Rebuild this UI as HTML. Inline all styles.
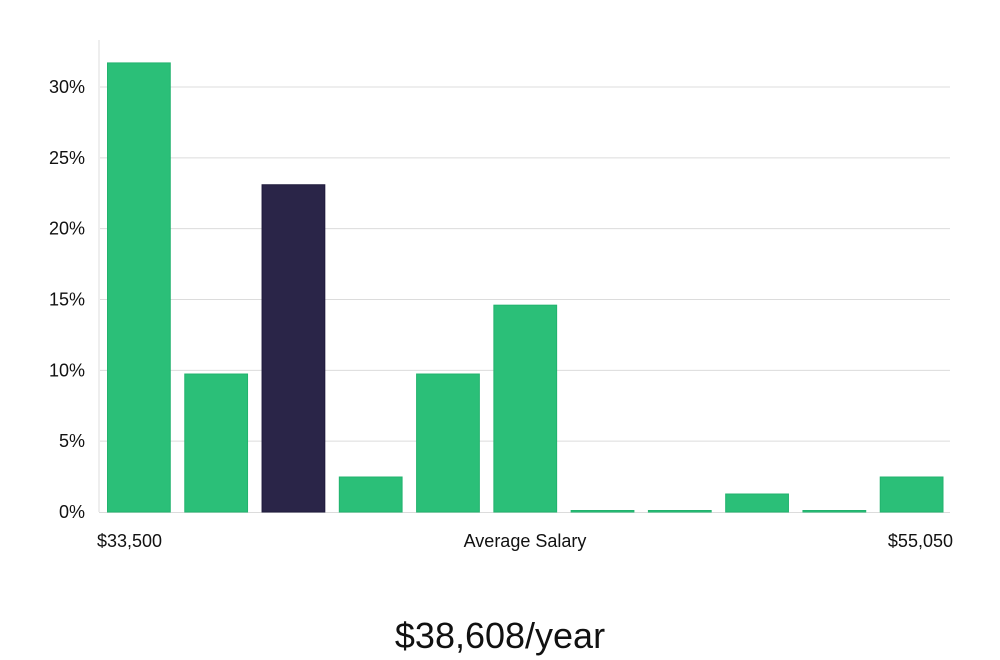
<!DOCTYPE html>
<html><head><meta charset="utf-8"><style>
html,body{margin:0;padding:0;background:#fff;width:1000px;height:660px;overflow:hidden;font-family:"Liberation Sans","DejaVu Sans",sans-serif;}
</style></head><body>
<svg id="chart" width="1000" height="660" xmlns="http://www.w3.org/2000/svg"></svg>
<script>
const categories=["b1","b2","b3","b4","b5","b6","b7","b8","b9","b10","b11"];
const values=[31.7,9.74,23.1,2.47,9.74,14.6,0,0,1.27,0,2.47];
const highlight=[false,false,true,false,false,false,false,false,false,false,false];
const yTicks=[0,5,10,15,20,25,30];
const yTickLabels=["0%","5%","10%","15%","20%","25%","30%"];
const xLabels=["$33,500","Average Salary","$55,050"];
const title="$38,608/year";

const NS="http://www.w3.org/2000/svg";
const svg=document.getElementById("chart");
const L=100,R=950,T=40,B=512,yMax=33.4;
function y(v){return B-(v/30)*(B-87);}
function xBand(i){return L+(R-L)/categories.length*i;}
const bw=(R-L)/categories.length;
function mk(tag,attrs){const e=document.createElementNS(NS,tag);for(const k in attrs)e.setAttribute(k,attrs[k]);svg.appendChild(e);return e;}

yTicks.forEach((t,i)=>{
  if(t>0){const g=mk("line",{x1:L,x2:R,y1:y(t),y2:y(t),stroke:"#dcdcdc","stroke-width":1});
  
  }
  const tx=mk("text",{x:85,y:y(t)+6,"text-anchor":"end","font-size":18,fill:"#111"});
  tx.textContent=yTickLabels[i];
  
  
});
const ax=mk("line",{x1:L-1,x2:L-1,y1:T,y2:B,stroke:"#dcdcdc","stroke-width":1});


const bx=mk("line",{x1:L-1,x2:R,y1:B+0.5,y2:B+0.5,stroke:"#dcdcdc","stroke-width":1});



values.forEach((v,i)=>{
  const top=Math.min(y(v),B-1.5);
  const r=mk("rect",{x:xBand(i)+7.5,y:top,width:bw-14.5,height:B-top,
    fill:highlight[i]?"#2a2548":"#2bbf78",stroke:highlight[i]?"#1e1a3c":"#22b36e","stroke-width":1});
  
  
});

const xl=[[97,"start"],[525,"middle"],[953,"end"]];
xLabels.forEach((s,i)=>{
  const t=mk("text",{x:xl[i][0],y:547,"text-anchor":xl[i][1],"font-size":18,fill:"#111"});
  t.textContent=s;
  
  
});
const tt=mk("text",{x:500,y:648,"text-anchor":"middle","font-size":36,fill:"#111"});
tt.textContent=title;


</script>
</body></html>
